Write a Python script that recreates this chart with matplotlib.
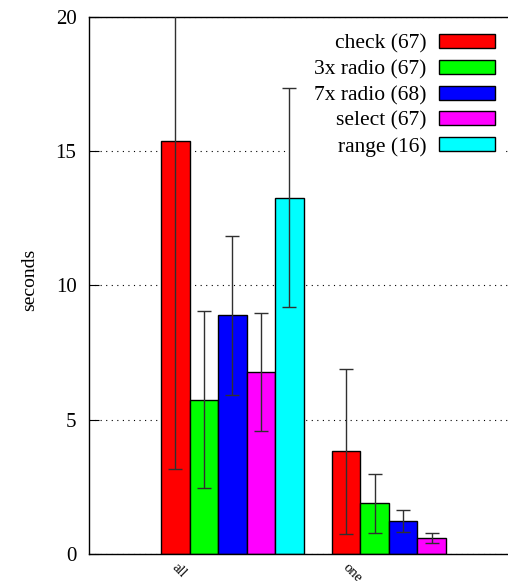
import matplotlib
matplotlib.use('Agg')
import matplotlib.pyplot as plt
from matplotlib.patches import Patch, Rectangle
from matplotlib.transforms import ScaledTranslation

plt.rcParams['font.family'] = ['Liberation Serif', 'DejaVu Serif']

groups = ['all', 'one']
series = ['check (67)', '3x radio (67)', '7x radio (68)', 'select (67)', 'range (16)']
colors = ['#ff0000', '#00ff00', '#0000ff', '#ff00ff', '#00ffff']

# mean time per widget type, None where a group has no entries
means_all = [15.37, 5.74, 8.88, 6.78, 13.27]
std_all = [12.2, 3.29, 2.96, 2.19, 4.08]
means_one = [3.82, 1.88, 1.23, 0.59, None]
std_one = [3.06, 1.10, 0.42, 0.19, None]

yticks = [0, 5, 10, 15, 20]

W, H = 508, 581
fig = plt.figure(figsize=(W / 100, H / 100), dpi=100)
ax = fig.add_axes([89 / W, 27 / H, 431 / W, 537.3 / H])

gap = len(series) + 1
for g, (m, s) in enumerate([(means_all, std_all), (means_one, std_one)]):
    for i, (val, err) in enumerate(zip(m, s)):
        if val is None:
            continue
        x = g * gap + i
        ax.bar(x, val, width=1.0, color=colors[i], edgecolor='black',
               linewidth=1.0, zorder=2)
        ax.errorbar(x, val, yerr=err, fmt='none', ecolor='#303030',
                    elinewidth=1.0, capsize=5, capthick=1.0, zorder=3)

ax.set_xlim(-3.03, 12.1)
ax.set_ylim(0, 20)
ax.set_yticks(yticks)
ax.set_yticklabels([str(t) for t in yticks], fontsize=15)
ax.tick_params(axis='y', direction='in', length=7, width=0.8, pad=9,
               right=False)
ax.set_xticks([g * gap for g in range(len(groups))])
ax.set_xticklabels(groups, fontsize=10.5, rotation=-45, ha='left',
                   va='top', rotation_mode='anchor')
ax.tick_params(axis='x', length=0, pad=5)
shift = ScaledTranslation(3 / 100, 0, fig.dpi_scale_trans)
for lbl in ax.get_xticklabels():
    lbl.set_transform(lbl.get_transform() + shift)

ax.yaxis.grid(True, linestyle=(0, (1, 4)), color='black', linewidth=0.8,
              zorder=0)
ax.set_axisbelow(True)
for sp in ax.spines.values():
    sp.set_linewidth(1.0)

ax.set_ylabel('seconds', fontsize=14)
ax.yaxis.set_label_coords(-0.118, 0.51)

# opaque key area: hides the grid behind the legend, error bars stay on top
ax.add_patch(Rectangle((288 / W, 1 - 160 / H), 218 / W, 135 / H,
                       transform=fig.transFigure, facecolor='white',
                       edgecolor='none', zorder=1))

handles = [Patch(facecolor=c, edgecolor='black', linewidth=1.0) for c in colors]
ax.legend(handles, series, loc='upper right', frameon=False,
          markerfirst=False, fontsize=15.5, handlelength=2.6,
          handleheight=0.62, handletextpad=0.55, labelspacing=0.29,
          borderpad=0, borderaxespad=0,
          bbox_to_anchor=(494.5 / W, 1 - 34 / H),
          bbox_transform=fig.transFigure)

fig.savefig('out.png', dpi=100)
